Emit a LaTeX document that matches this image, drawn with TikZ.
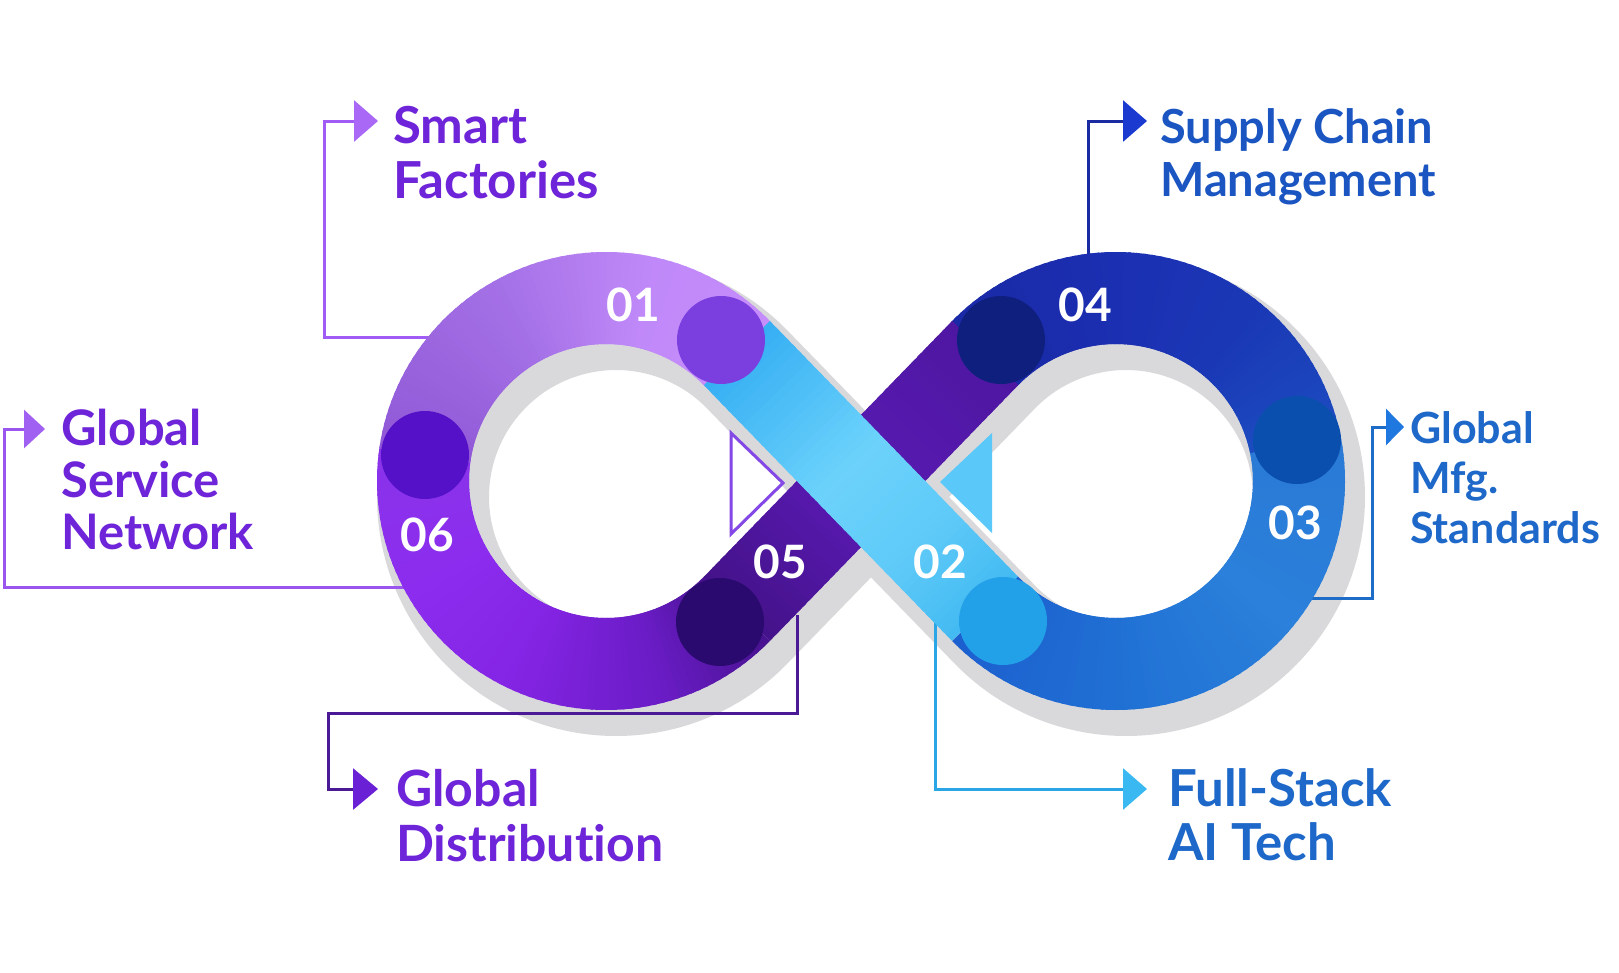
\documentclass[tikz,border=0pt]{standalone}
\usepackage{fontspec}
\setmainfont{Lato}[Ligatures={NoCommon}]
\usetikzlibrary{calc,arrows.meta}

% shadow and connector colours
\definecolor{shadowc}{HTML}{D9D9DC}
\definecolor{sfline}{HTML}{A05CF4}
\definecolor{sfhead}{HTML}{A968F6}
\definecolor{gsline}{HTML}{9A55EE}
\definecolor{gshead}{HTML}{A060F2}
\definecolor{gdline}{HTML}{4A1A96}
\definecolor{gdhead}{HTML}{6A20D4}
\definecolor{fsline}{HTML}{2AA6E6}
\definecolor{fshead}{HTML}{3AB8F2}
\definecolor{mfline}{HTML}{1C6CC8}
\definecolor{mfhead}{HTML}{1F78E0}
\definecolor{scline}{HTML}{1A2AA0}
\definecolor{schead}{HTML}{1A3AD0}
\definecolor{violettext}{HTML}{6E24D8}
\definecolor{bluetextA}{HTML}{1A55C2}
\definecolor{bluetextB}{HTML}{1D68C8}
% left loop
\definecolor{cL0}{HTML}{47128F}
\definecolor{cL1}{HTML}{6A1CC6}
\definecolor{cL2}{HTML}{8424E4}
\definecolor{cL3}{HTML}{8C2CEE}
\definecolor{cL4}{HTML}{8A34EA}
\definecolor{cL5}{HTML}{9058D6}
\definecolor{cL6}{HTML}{A470E6}
\definecolor{cL7}{HTML}{BF88F8}
\definecolor{cL8}{HTML}{C68DFB}
% right loop
\definecolor{cR0}{HTML}{1C5FCF}
\definecolor{cR1}{HTML}{2070D4}
\definecolor{cR2}{HTML}{2A80DA}
\definecolor{cR3}{HTML}{2A7AD6}
\definecolor{cR4}{HTML}{1C4CC0}
\definecolor{cR5}{HTML}{1A38B6}
\definecolor{cR6}{HTML}{1B2FB2}
\definecolor{cR7}{HTML}{1A29A6}
% crossing bands
\definecolor{cP0}{HTML}{44128A}
\definecolor{cP1}{HTML}{5A1AB4}
\definecolor{cP2}{HTML}{4E17A2}
\definecolor{cB0}{HTML}{36AFF3}
\definecolor{cB1}{HTML}{6CD2FB}
\definecolor{cB2}{HTML}{5ECAF8}
\definecolor{cB3}{HTML}{42BAF2}
% junction dots
\definecolor{dotA}{HTML}{7B3FE0}
\definecolor{dotB}{HTML}{22A0E8}
\definecolor{dotC}{HTML}{0B4FAE}
\definecolor{dotD}{HTML}{0F1F7E}
\definecolor{dotE}{HTML}{2B0A70}
\definecolor{dotF}{HTML}{5511C8}
\definecolor{triline}{HTML}{8448E6}
\definecolor{trifill}{HTML}{5AC8F8}

\tikzset{
  band/.style={line width=92pt, line cap=butt},
  link/.style={line width=3pt},
  caption/.style={anchor=base west, inner sep=0pt, font=\bfseries\fontsize{50}{55}\selectfont},
  num/.style={inner sep=0pt, text=white, font=\bfseries\fontsize{46}{46}\selectfont},
}

% arc of the band around a loop centre, colour blended from #4 to #5
\newcommand\bandarc[6]{%
  \foreach \k in {1,...,#6}{%
    \pgfmathsetmacro\angA{#2+(#3-#2)*(\k-1)/#6}%
    \pgfmathsetmacro\angB{#2+(#3-#2)*(\k+0.6)/#6}%
    \pgfmathtruncatemacro\mixp{100*(\k-0.5)/#6}%
    \draw[band, #5!\mixp!#4] ($(#1)+(\angA:183)$) arc[start angle=\angA, end angle=\angB, radius=183];
  }%
}
% straight piece of the band, colour blended from #3 to #4
\newcommand\bandline[5]{%
  \foreach \k in {1,...,#5}{%
    \pgfmathsetmacro\tA{(\k-1)/#5-0.004}%
    \pgfmathsetmacro\tB{min(1.004,(\k+0.6)/#5)}%
    \pgfmathtruncatemacro\mixp{100*(\k-0.5)/#5}%
    \draw[band, #4!\mixp!#3] ($(#1)!\tA!(#2)$) -- ($(#1)!\tB!(#2)$);
  }%
}

\begin{document}
\begin{tikzpicture}[x=1pt, y=-1pt]
\useasboundingbox (0,0) rectangle (1619,972);
\fill[white] (0,0) rectangle (1619,972);

% loop centres and tangent points of the crossing
\coordinate (C1) at (606,481);
\coordinate (C2) at (1116,481);
\coordinate (T1) at ($(C1)+(-44.14:183)$);
\coordinate (T4) at ($(C1)+(44.14:183)$);
\coordinate (T2) at ($(C2)+(135.86:183)$);
\coordinate (T3) at ($(C2)+(-135.86:183)$);

% soft drop shadow of the whole ribbon
\draw[shadowc, line width=112pt, line join=round]
  ([shift={(10,16)}]T1) -- ([shift={(10,16)}]T2)
  arc[start angle=135.86, end angle=-135.86, radius=183]
  -- ([shift={(10,16)}]T4)
  arc[start angle=44.14, end angle=315.86, radius=183] -- cycle;

% callout connectors
\coordinate (sfA) at (430,337);   \coordinate (sfB) at (324,121);  \coordinate (sfTip) at (378,121);
\coordinate (gsA) at (405,587);   \coordinate (gsB) at (4,429);    \coordinate (gsTip) at (45,429);
\coordinate (gdA) at (797,615);   \coordinate (gdB) at (328,713);  \coordinate (gdTip) at (378,789);
\coordinate (fsA) at (935,600);   \coordinate (fsTip) at (1147,789);
\coordinate (mfA) at (1300,598);  \coordinate (mfB) at (1372,427); \coordinate (mfTip) at (1404,427);
\coordinate (scA) at (1088,270);  \coordinate (scTip) at (1147,121);

\draw[link, sfline, -{Triangle[length=24pt,width=41pt,color=sfhead]}] (sfA) -| (sfB) -- (sfTip);
\draw[link, gsline, -{Triangle[length=21pt,width=38pt,color=gshead]}] (gsA) -| (gsB) -- (gsTip);
\draw[link, gdline, -{Triangle[length=25pt,width=41pt,color=gdhead]}] (gdA) |- (gdB) |- (gdTip);
\draw[link, fsline, -{Triangle[length=24pt,width=41pt,color=fshead]}] (fsA) |- (fsTip);
\draw[link, mfline, -{Triangle[length=18pt,width=36pt,color=mfhead]}] (mfA) -| (mfB) -- (mfTip);
\draw[link, scline, -{Triangle[length=24pt,width=41pt,color=schead]}] (scA) |- (scTip);

% direction triangles inside the loops
\draw[triline, fill=white, line width=3pt] (731,433) -- (783,483) -- (731,534) -- cycle;
\fill[trifill] (992,433) -- (940,482) -- (992,533) -- cycle;

% left loop, from the lower crossing round to the upper crossing
\bandarc{C1}{44.14}{75}{cL0}{cL1}{16}
\bandarc{C1}{75}{115}{cL1}{cL2}{20}
\bandarc{C1}{115}{150}{cL2}{cL3}{18}
\bandarc{C1}{150}{188}{cL3}{cL4}{19}
\bandarc{C1}{188}{240}{cL5}{cL6}{26}
\bandarc{C1}{240}{280}{cL6}{cL7}{20}
\bandarc{C1}{280}{315.86}{cL7}{cL8}{18}

% right loop, from the lower crossing round to the upper crossing
\bandarc{C2}{135.86}{90}{cR0}{cR1}{23}
\bandarc{C2}{90}{40}{cR1}{cR2}{25}
\bandarc{C2}{40}{-12}{cR2}{cR3}{26}
\bandarc{C2}{-12}{-50}{cR4}{cR5}{19}
\bandarc{C2}{-50}{-90}{cR5}{cR6}{20}
\bandarc{C2}{-90}{-135.86}{cR6}{cR7}{23}

% purple crossing band (lower left to upper right)
\coordinate (P1) at ($(T4)!0.45!(T3)$);
\bandline{T4}{P1}{cP0}{cP1}{20}
\bandline{P1}{T3}{cP1}{cP2}{24}

% light blue crossing band (upper left to lower right), on top
\coordinate (B1) at ($(T1)!0.45!(T2)$);
\coordinate (B2) at ($(T1)!0.75!(T2)$);
\bandline{T1}{B1}{cB0}{cB1}{20}
\bandline{B1}{B2}{cB1}{cB2}{14}
\bandline{B2}{T2}{cB2}{cB3}{12}

% junction dots
\fill[dotA] (721,340) circle[radius=44];
\fill[dotD] (1001,340) circle[radius=44];
\fill[dotC] (1297,440) circle[radius=44];
\fill[dotB] (1003,621) circle[radius=44];
\fill[dotE] (720,622) circle[radius=44];
\fill[dotF] (425,455) circle[radius=44];

% step numbers
\node[num] (n01) at (633,305) {01};
\node[num] (n02) at (940,562) {02};
\node[num] (n03) at (1295,523) {03};
\node[num] (n04) at (1085,305) {04};
\node[num] (n05) at (780,562) {05};
\node[num] (n06) at (427,535) {06};

% captions
\node[caption, text=violettext, font=\bfseries\fontsize{51}{55}\selectfont] (sfText) at (393,143)
  {\vtop{\hbox{Smart}\hbox{Factories}}};
\node[caption, text=violettext, font=\bfseries\fontsize{49}{52}\selectfont] (gsText) at (61,445)
  {\vtop{\hbox{Global}\hbox{Service}\hbox{Network}}};
\node[caption, text=violettext] (gdText) at (396,806)
  {\vtop{\hbox{Global}\hbox{Distribution}}};
\node[caption, text=bluetextA, font=\bfseries\fontsize{47}{53}\selectfont] (scText) at (1160,143)
  {\vtop{\hbox{Supply Chain}\hbox{Management}}};
\node[caption, text=bluetextB, font=\bfseries\fontsize{43}{50}\selectfont] (mfText) at (1410,443)
  {\vtop{\hbox{Global}\hbox{Mfg.}\hbox{Standards}}};
\node[caption, text=bluetextB, font=\bfseries\fontsize{51}{54}\selectfont] (fsText) at (1168,806)
  {\vtop{\hbox{Full-Stack}\hbox{AI Tech}}};
\end{tikzpicture}
\end{document}
